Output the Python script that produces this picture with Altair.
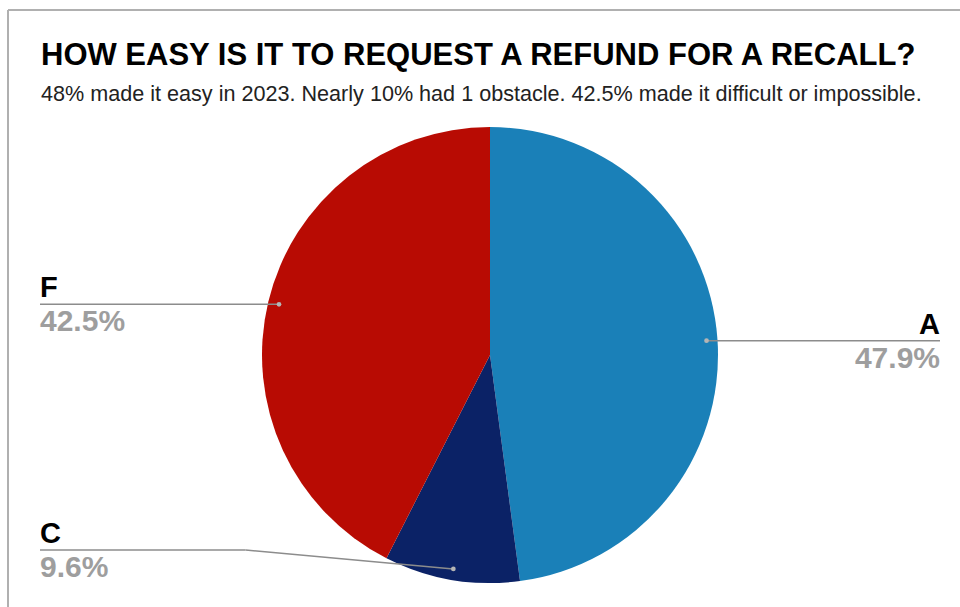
import altair as alt
import pandas as pd

# ---- data ----
categories = ["A", "C", "F"]
shares = [47.9, 9.6, 42.5]
value_labels = ["47.9%", "9.6%", "42.5%"]
slice_colors = ["#1a80b8", "#0b2266", "#b80b03"]

title_text = "HOW EASY IS IT TO REQUEST A REFUND FOR A RECALL?"
subtitle_text = ("48% made it easy in 2023. Nearly 10% had 1 obstacle. "
                 "42.5% made it difficult or impossible.")

# ---- layout ----
W, H = 960, 607
CX, CY, R = 490, 355, 228
DOT_R = 217
LABEL_BOTTOM = 550
LEFT_X, RIGHT_X = 40, 940
FONT = "Liberation Sans"

df = pd.DataFrame({"category": categories, "share": shares,
                   "label": value_labels, "order": list(range(len(categories)))})

xs = alt.Scale(domain=[0, W], nice=False, zero=False)
ys = alt.Scale(domain=[0, H], nice=False, zero=False, reverse=True)

base = (
    alt.Chart(df)
    .transform_window(cum="sum(share)", sort=[alt.SortField("order")], frame=[None, 0])
    .transform_joinaggregate(total="sum(share)")
    .transform_calculate(
        mid="2*PI*(datum.cum - datum.share/2)/datum.total",
        px=f"{CX} + {DOT_R}*sin(datum.mid)",
        py=f"{CY} - {DOT_R}*cos(datum.mid)",
        right=f"datum.px > {CX}",
        ly=f"min(datum.py, {LABEL_BOTTOM})",
        ex="datum.px + (datum.right ? 1 : -1) * (datum.py - datum.ly) * 11",
        lx=f"datum.right ? {RIGHT_X} : {LEFT_X}",
    )
)

pie = alt.Chart(df).mark_arc(radius=R).encode(
    theta=alt.Theta("share:Q", stack=True),
    color=alt.Color("category:N", scale=alt.Scale(domain=categories, range=slice_colors), legend=None),
    order=alt.Order("order:Q"),
    x=alt.value(CX),
    y=alt.value(CY),
)

hline = base.mark_rule(color="#8c8c8c", strokeWidth=1.5).encode(
    x=alt.X("lx:Q", scale=xs, axis=None), x2="ex:Q",
    y=alt.Y("ly:Q", scale=ys, axis=None),
)
sline = base.mark_rule(color="#8c8c8c", strokeWidth=1.5).encode(
    x=alt.X("ex:Q", scale=xs, axis=None), x2="px:Q",
    y=alt.Y("ly:Q", scale=ys, axis=None), y2="py:Q",
)
dots = base.mark_circle(size=22, color="#b5b5b5", opacity=1).encode(
    x=alt.X("px:Q", scale=xs, axis=None),
    y=alt.Y("py:Q", scale=ys, axis=None),
)

def labels(side_expr, align):
    b = base.transform_filter(side_expr)
    name = b.mark_text(align=align, baseline="alphabetic", dy=-7, font=FONT,
                       fontSize=29, fontWeight="bold", color="#000000").encode(
        x=alt.X("lx:Q", scale=xs, axis=None), y=alt.Y("ly:Q", scale=ys, axis=None),
        text="category:N")
    val = b.mark_text(align=align, baseline="alphabetic", dy=27, font=FONT,
                      fontSize=30, fontWeight="bold", color="#9e9e9e").encode(
        x=alt.X("lx:Q", scale=xs, axis=None), y=alt.Y("ly:Q", scale=ys, axis=None),
        text="label:N")
    return name + val

left_labels = labels("!datum.right", "left")
right_labels = labels("datum.right", "right")

title = alt.Chart(pd.DataFrame({"t": [title_text]})).mark_text(
    align="left", baseline="alphabetic", font=FONT, fontSize=31, fontWeight="bold", color="#000000"
).encode(x=alt.value(41), y=alt.value(65), text="t:N")

subtitle = alt.Chart(pd.DataFrame({"t": [subtitle_text]})).mark_text(
    align="left", baseline="alphabetic", font=FONT, fontSize=21.6, color="#222222"
).encode(x=alt.value(41), y=alt.value(101), text="t:N")

frame_top = alt.Chart(pd.DataFrame({"k": [0]})).mark_rule(color="#b0b0b0", strokeWidth=2).encode(
    x=alt.value(8), x2=alt.value(W), y=alt.value(10))
frame_left = alt.Chart(pd.DataFrame({"k": [0]})).mark_rule(color="#b0b0b0", strokeWidth=2).encode(
    x=alt.value(8), y=alt.value(10), y2=alt.value(H))

chart = (
    alt.layer(frame_top, frame_left, pie, hline, sline, dots, left_labels, right_labels, title, subtitle)
    .properties(width=W, height=H, autosize=alt.AutoSizeParams(type="none"), padding=0,
                background="#ffffff")
    .configure_view(stroke=None)
)

chart.save("out.html", embed_options={"renderer": "svg", "actions": False})
